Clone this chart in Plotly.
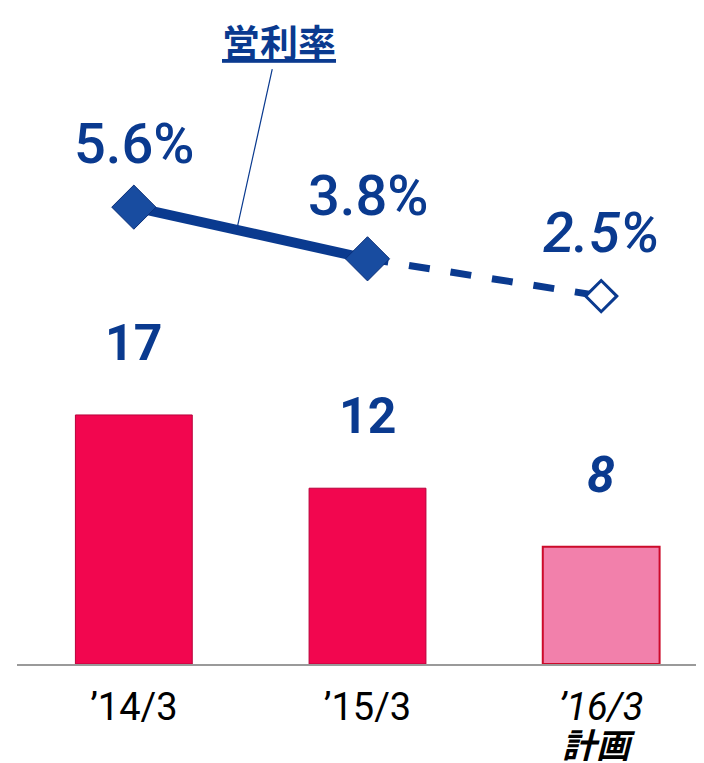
import plotly.graph_objects as go

# data
periods = ["’14/3", "’15/3", "<i>’16/3</i>"]
plan_note = "計画"
profit = [17, 12, 8]              # bars (operating profit)
margin = [5.6, 3.8, 2.5]          # line (operating margin, %)
profit_labels = ["<b>17</b>", "<b>12</b>", "<b><i>8</i></b>"]
margin_labels = ["5.6%", "3.8%", "<i>2.5%</i>"]

NAVY = "#0a3a8f"
FONT = "Roboto, Noto Sans CJK JP, sans-serif"

xs = [0, 1, 2]

fig = go.Figure()

fig.add_trace(go.Bar(
    x=xs, y=profit, width=0.5,
    marker=dict(color=["#f2064f", "#f2064f", "#f280ab"],
                line=dict(color=["#b8003a", "#b8003a", "#cc0a2a"], width=[1, 1, 2])),
    hoverinfo="skip",
))

# actual: solid line
fig.add_trace(go.Scatter(
    x=xs[:2], y=margin[:2], yaxis="y2", mode="lines",
    line=dict(color=NAVY, width=10),
))
# plan: dashed line
fig.add_trace(go.Scatter(
    x=xs[1:], y=margin[1:], yaxis="y2", mode="lines",
    line=dict(color=NAVY, width=7, dash="dash"),
))
fig.add_trace(go.Scatter(
    x=xs[:2], y=margin[:2], yaxis="y2", mode="markers",
    marker=dict(symbol="diamond", size=34, color="#184ca0", line=dict(color="#0a2f78", width=1)),
))
fig.add_trace(go.Scatter(
    x=xs[2:], y=margin[2:], yaxis="y2", mode="markers",
    marker=dict(symbol="diamond", size=24, color="white", line=dict(color=NAVY, width=3)),
))

for x, v, t in zip(xs, profit, profit_labels):
    fig.add_annotation(x=x, y=v, yref="y", text=t, showarrow=False, yshift=72,
                       font=dict(size=50, color=NAVY, family=FONT))
for x, v, t in zip(xs, margin, margin_labels):
    fig.add_annotation(x=x, y=v, yref="y2", text=t, showarrow=False, yshift=63,
                       font=dict(size=56, color=NAVY, family=FONT, weight=500))

# "plan" note under the last period label
fig.add_annotation(x=xs[2], y=0, yref="paper", yanchor="middle", text="<i>" + plan_note + "</i>",
                   showarrow=False, yshift=-79, xshift=-2,
                   font=dict(size=34, color="black", family="Noto Sans CJK JP", weight="bold"))

# series label with leader line
fig.add_annotation(x=0.44, y=4.8, yref="y2", text="<b><u>営利率</u></b>",
                   showarrow=True, arrowhead=0, arrowwidth=1.2, arrowcolor=NAVY,
                   ax=42, ay=-190, font=dict(size=38, color=NAVY, family="Noto Sans CJK JP"))

fig.update_layout(
    width=696, height=755,
    margin=dict(l=9, r=0, t=0, b=99, autoexpand=False),
    plot_bgcolor="white", paper_bgcolor="white",
    showlegend=False,
    xaxis=dict(range=[-0.5, 2.44], tickvals=xs, ticktext=periods, automargin=False,
               showline=True, linecolor="#9a9a9a", linewidth=2, showgrid=False, zeroline=False,
               ticks="", ticklabelstandoff=8,
               tickfont=dict(size=38, color="black", family=FONT)),
    yaxis=dict(range=[0, 44.78], visible=False, showgrid=False, automargin=False),
    yaxis2=dict(range=[-10.32, 12.54], overlaying="y", visible=False, showgrid=False, automargin=False),
)

fig.write_html("out.html")
